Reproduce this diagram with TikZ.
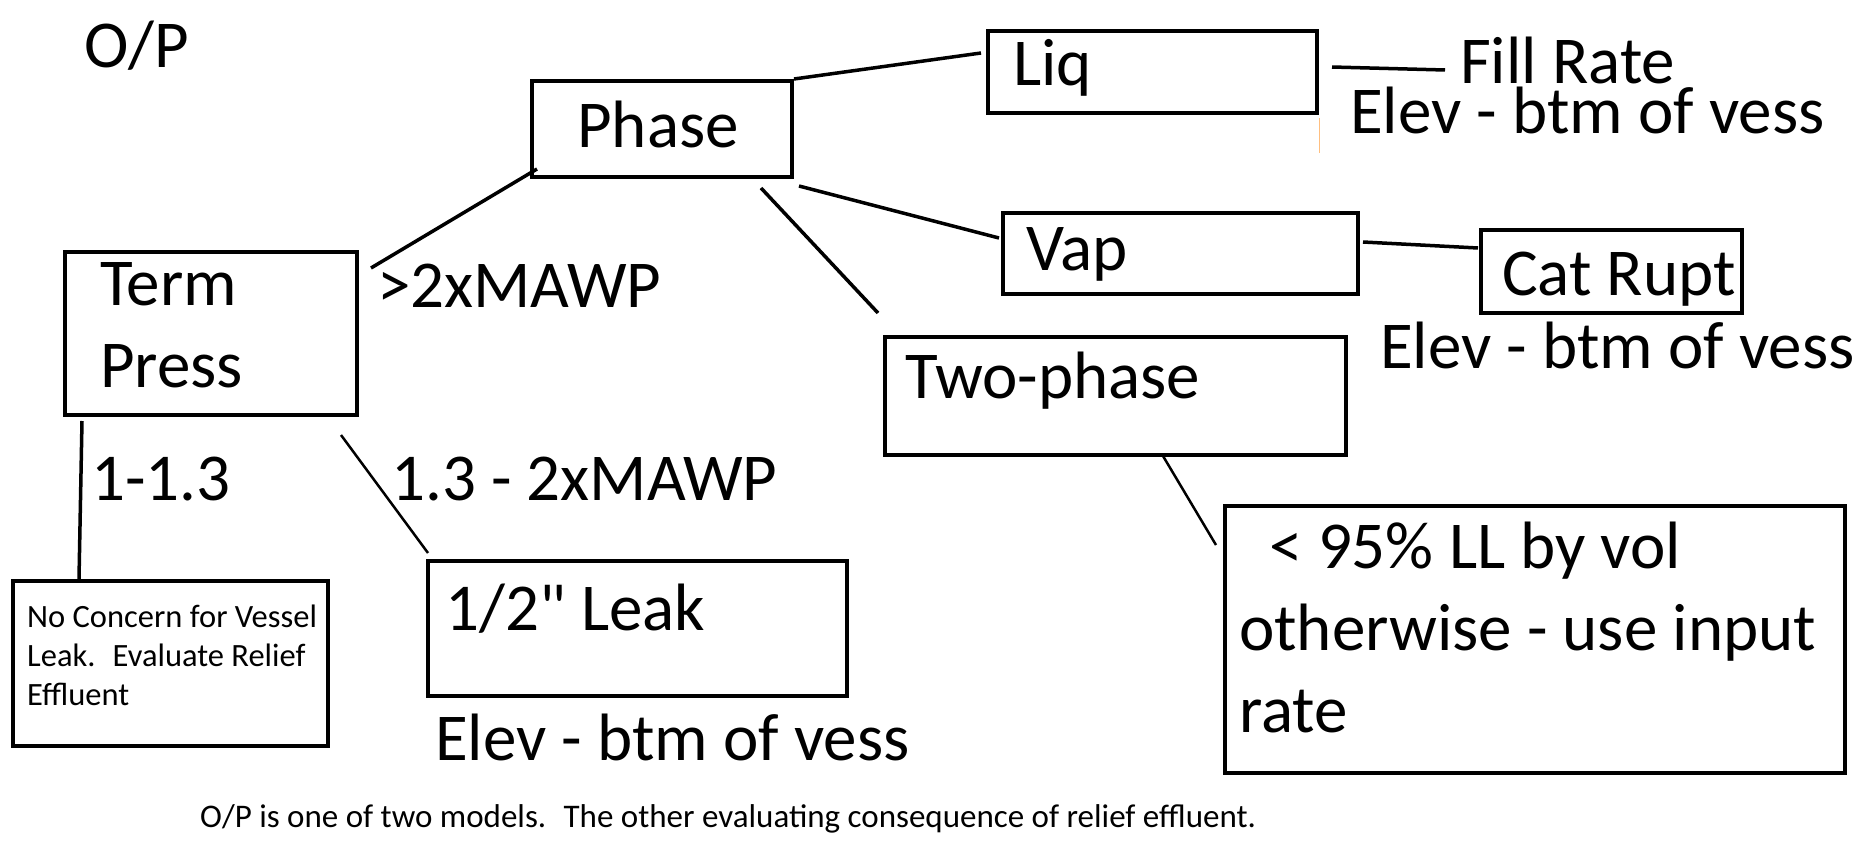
\documentclass[tikz,border=0pt]{standalone}
\usepackage{fontspec}
\setmainfont{Carlito}[Ligatures=TeXOff]
\usetikzlibrary{positioning}

\begin{document}
\begin{tikzpicture}[x=1pt, y=-1pt]
        \tikzstyle{box} = [rectangle, draw, line width=4pt, anchor=north west, inner sep=0pt]
        \tikzstyle{big} = [font=\fontsize{67}{82}\selectfont, inner sep=0pt, anchor=base west, align=left]
        \tikzstyle{small} = [font=\fontsize{32.5}{39}\selectfont, inner sep=0pt, anchor=base west, align=left]
        \tikzstyle{line} = [line width=3.5pt]
        \tikzstyle{thin} = [line width=2.5pt]

        \useasboundingbox (0,0) rectangle (1858,859);

        % boxes
        \node (term) [box, minimum width=292pt, minimum height=163pt] at (63,250) {};
        \node (phase) [box, minimum width=260pt, minimum height=96pt] at (530,79) {};
        \node (liq) [box, minimum width=329pt, minimum height=82pt] at (986,29) {};
        \node (vap) [box, minimum width=355pt, minimum height=81pt] at (1001,211) {};
        \node (catrupt) [box, minimum width=261pt, minimum height=83pt] at (1479,228) {};
        \node (twophase) [box, minimum width=461pt, minimum height=118pt] at (883,335) {};
        \node (ll) [box, minimum width=620pt, minimum height=267pt] at (1223,504) {};
        \node (leak) [box, minimum width=419pt, minimum height=135pt] at (426,559) {};
        \node (noconcern) [box, minimum width=315pt, minimum height=165pt] at (11,579) {};

        % texts (multi-line ones sit on their last baseline)
        \node (op) [big] at (84,67) {O/P};
        \node (termtxt) [big] at (100,387) {Term\\Press};
        \node (phasetxt) [big] at (577,147) {Phase};
        \node (liqtxt) [big] at (1013,85) {Liq};
        \node (fillrate) [big] at (1460,83) {Fill Rate};
        \node (elevliq) [big] at (1350,133) {Elev - btm of vess};
        \node (vaptxt) [big] at (1026,270) {Vap};
        \node (catrupttxt) [big] at (1502,295) {Cat Rupt};
        \node (elevvap) [big] at (1380,368) {Elev - btm of vess};
        \node (hi) [big] at (377,307) {>2xMAWP};
        \node (twophasetxt) [big] at (905,398) {Two-phase};
        \node (lo) [big] at (91,500) {1-1.3};
        \node (mid) [big] at (391,500) {1.3 - 2xMAWP};
        \node (lltxt) [big] at (1239,732) {~~< 95\% LL by vol\\otherwise - use input\\rate};
        \node (leaktxt) [big] at (445,630) {1/2" Leak};
        \node (elevleak) [big] at (435,760) {Elev - btm of vess};
        \node (noconcerntxt) [small] at (27,705) {No Concern for Vessel\\Leak.~ Evaluate Relief\\Effluent};
        \node (note) [font=\fontsize{33}{36}\selectfont, inner sep=0pt, anchor=base west] at (200,827) {O/P is one of two models.~ The other evaluating consequence of relief effluent.};

        % connectors
        \draw [line] ([shift={(12,18)}]term.north east) -- ([shift={(7,-10)}]phase.south west);
        \draw [line] (phase.north east) -- ([shift={(-5,24)}]liq.north west);
        \draw [line] ([shift={(5,7)}]phase.south east) -- ([shift={(-2,27)}]vap.north west);
        \draw [line] ([shift={(-33,9)}]phase.south east) -- ([shift={(-5,-22)}]twophase.north west);
        \draw [line] ([shift={(13,38)}]liq.north east) -- ([shift={(-15,-13)}]fillrate.base west);
        \draw [line] ([shift={(3,31)}]vap.north east) -- ([shift={(-1,20)}]catrupt.north west);
        \draw [thin] ([shift={(280,-1)}]twophase.south west) -- ([shift={(-7,41)}]ll.north west);
        \draw [line] ([shift={(19,4)}]term.south west) -- ([shift={(68,0)}]noconcern.north west);
        \draw [thin] ([shift={(-18,18)}]term.south east) -- ([shift={(2,-6)}]leak.north west);
        \draw [orange!50, line width=1pt] ([shift={(0,3)}]liq.south east) -- ([shift={(0,38)}]liq.south east);
\end{tikzpicture}
\end{document}
